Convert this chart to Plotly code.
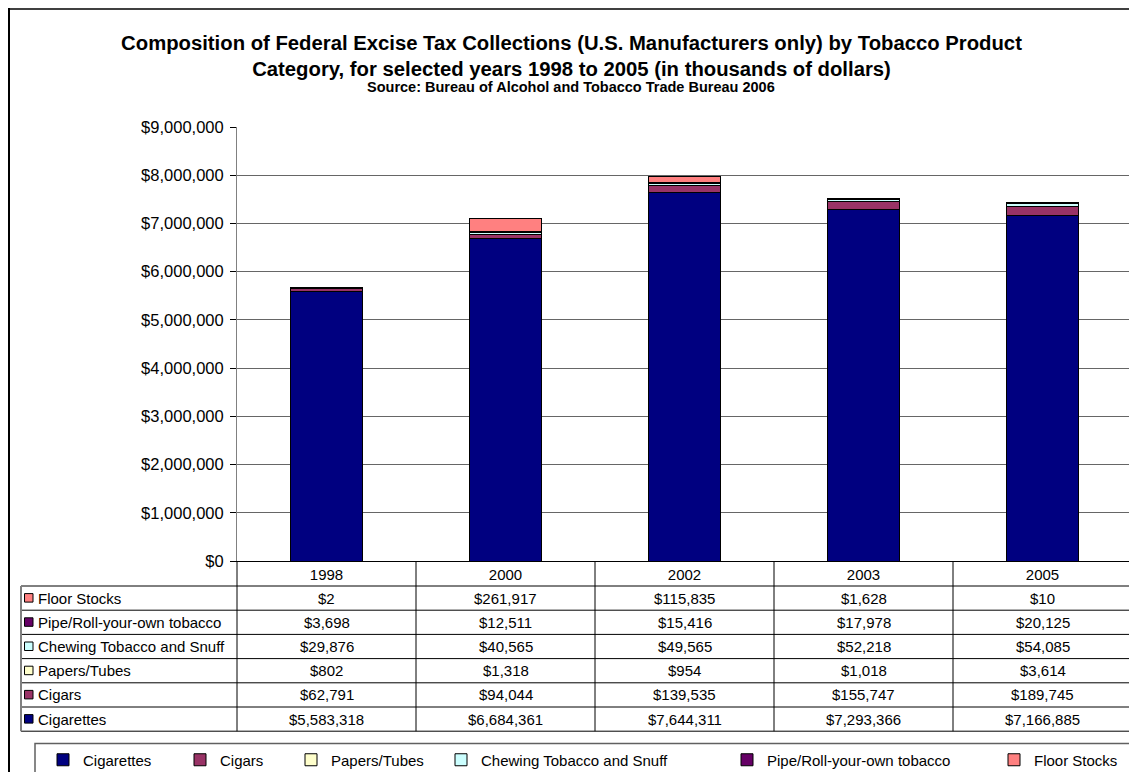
import plotly.graph_objects as go

# ---------------- data ----------------
years = ["1998", "2000", "2002", "2003", "2005"]
cigarettes = [5583318, 6684361, 7644311, 7293366, 7166885]
cigars = [62791, 94044, 139535, 155747, 189745]
papers_tubes = [802, 1318, 954, 1018, 3614]
chewing_snuff = [29876, 40565, 49565, 52218, 54085]
pipe_ryo = [3698, 12511, 15416, 17978, 20125]
floor_stocks = [2, 261917, 115835, 1628, 10]

series_names = ["Cigarettes", "Cigars", "Papers/Tubes",
                "Chewing Tobacco and Snuff", "Pipe/Roll-your-own tobacco",
                "Floor Stocks"]
series_values = [cigarettes, cigars, papers_tubes, chewing_snuff, pipe_ryo,
                 floor_stocks]
series_colors = ["#000080", "#993366", "#FFFFCC", "#CCFFFF", "#660066",
                 "#FF8080"]

title_text = ("Composition of Federal Excise Tax Collections (U.S. Manufacturers only) "
              "by Tobacco Product<br>Category, for selected years 1998 to 2005 "
              "(in thousands of dollars)")
source_text = "Source: Bureau of Alcohol and Tobacco Trade Bureau 2006"

# ---------------- layout geometry ----------------
# page (window) pixel coordinates are used below; the figure itself sits
# 8px inside the page because of the default body margin.
OFF = 8
W, H = 1137 - OFF, 772 - OFF
PL, PR, PT, PB = 237, 1132, 127, 561          # plot area in page pixels
L, T = PL - OFF, PT - OFF
R = W - (PR - OFF)
B = H - (PB - OFF)
PW, PH = PR - PL, PB - PT
FONT = "Arial, 'Liberation Sans', sans-serif"


def px(x):
    return (x - PL) / PW


def py(y):
    return (PB - y) / PH


def cx(x):
    return (x - OFF) / W


def cy(y):
    return 1 - (y - OFF) / H


fig = go.Figure()

legend_sym_x = [63, 200, 311, 461, 747, 1014]
legend_y_px = 760
layout_legends = {}
for i, (name, vals, col) in enumerate(zip(series_names, series_values, series_colors)):
    lname = f"legend{i + 2}"
    fig.add_trace(go.Bar(
        x=years, y=vals, name=name, legend=lname,
        marker=dict(color=col, line=dict(color="#000000", width=1)),
        width=0.4,
        hovertemplate=name + " %{x}: $%{y:,}<extra></extra>",
    ))
    layout_legends[lname] = dict(
        x=cx(legend_sym_x[i] - 20), xanchor="left", xref="container",
        y=cy(legend_y_px), yanchor="middle", yref="container",
        orientation="h", bgcolor="rgba(0,0,0,0)", borderwidth=0,
        font=dict(family=FONT, size=15, color="#000000"),
        itemwidth=30, visible=True,
    )

shapes = []
annotations = []

# outer chart border (top and left)
shapes.append(dict(type="line", xref="paper", yref="paper",
                   x0=px(9), x1=px(1140), y0=py(9), y1=py(9),
                   line=dict(color="#404040", width=2)))
shapes.append(dict(type="line", xref="paper", yref="paper",
                   x0=px(9), x1=px(9), y0=py(8), y1=py(780),
                   line=dict(color="#000000", width=2)))

# data table grid
row_lines = [586, 610.2, 634.4, 658.6, 682.8, 707, 731.2]
for yy in row_lines:
    shapes.append(dict(type="line", xref="paper", yref="paper",
                       x0=px(21), x1=1.0, y0=py(yy), y1=py(yy),
                       line=dict(color="#000000", width=1)))
shapes.append(dict(type="line", xref="paper", yref="paper",
                   x0=px(21), x1=px(21), y0=py(586), y1=py(731.2),
                   line=dict(color="#808080", width=2)))
shapes.append(dict(type="line", xref="paper", yref="paper",
                   x0=0, x1=0, y0=0, y1=py(731.2),
                   line=dict(color="#000000", width=1)))
for k in range(len(years)):
    shapes.append(dict(type="line", xref="x", yref="paper",
                       x0=k + 0.5, x1=k + 0.5, y0=0, y1=py(731.2),
                       line=dict(color="#000000", width=1)))

# table rows: top to bottom = reversed series order
row_centers = [(row_lines[j] + row_lines[j + 1]) / 2 for j in range(6)]
table_order = list(range(len(series_names)))[::-1]
for j, si in enumerate(table_order):
    yc = row_centers[j]
    shapes.append(dict(type="rect", xref="paper", yref="paper",
                       x0=px(24.5), x1=px(33), y0=py(yc - 4.5), y1=py(yc + 4),
                       fillcolor=series_colors[si],
                       line=dict(color="#000000", width=1)))
    annotations.append(dict(xref="paper", yref="paper", x=px(36), y=py(yc),
                            xanchor="left", yanchor="middle", showarrow=False,
                            text=series_names[si],
                            font=dict(family=FONT, size=15, color="#000000")))
    for k, yr in enumerate(years):
        annotations.append(dict(xref="x", yref="paper", x=k, y=py(yc),
                                xanchor="center", yanchor="middle",
                                showarrow=False,
                                text=f"${series_values[si][k]:,}",
                                font=dict(family=FONT, size=15, color="#000000")))

# legend frame
shapes.append(dict(type="rect", xref="paper", yref="paper",
                   x0=px(35), x1=px(1160), y0=py(743.5), y1=py(800),
                   line=dict(color="#606060", width=1.5),
                   fillcolor="rgba(0,0,0,0)", layer="below"))

# source line
annotations.append(dict(xref="paper", yref="paper", x=px(571), y=py(87),
                        xanchor="center", yanchor="middle", showarrow=False,
                        text="<b>" + source_text + "</b>",
                        font=dict(family=FONT, size=14.5, color="#000000")))

fig.update_layout(
    width=W, height=H,
    margin=dict(l=L, r=R, t=T, b=B, autoexpand=False),
    paper_bgcolor="#FFFFFF", plot_bgcolor="#FFFFFF",
    barmode="stack",
    showlegend=True,
    title=dict(text="<b>" + title_text + "</b>",
               font=dict(family=FONT, size=20.3, color="#000000"),
               x=cx(571.5), xanchor="center", xref="container",
               y=cy(50), yanchor="middle", yref="container"),
    font=dict(family=FONT, size=15, color="#000000"),
    xaxis=dict(type="category", range=[-0.5, len(years) - 0.5],
               autorange=False, showgrid=False, ticks="",
               showline=True, linecolor="#000000", linewidth=1,
               tickfont=dict(family=FONT, size=15, color="#000000"),
               zeroline=False, fixedrange=True),
    yaxis=dict(range=[0, 9000000], autorange=False, dtick=1000000, tick0=0,
               tickprefix="$", tickformat=",d",
               showgrid=True, gridcolor="#666666", gridwidth=1,
               ticks="outside", ticklen=6, tickcolor="#000000",
               ticklabelstandoff=3,
               showline=True, linecolor="#808080", linewidth=1,
               zeroline=False,
               tickfont=dict(family=FONT, size=16.5, color="#000000"),
               fixedrange=True),
    shapes=shapes,
    annotations=annotations,
    **layout_legends,
)

fig.write_html("out.html")
